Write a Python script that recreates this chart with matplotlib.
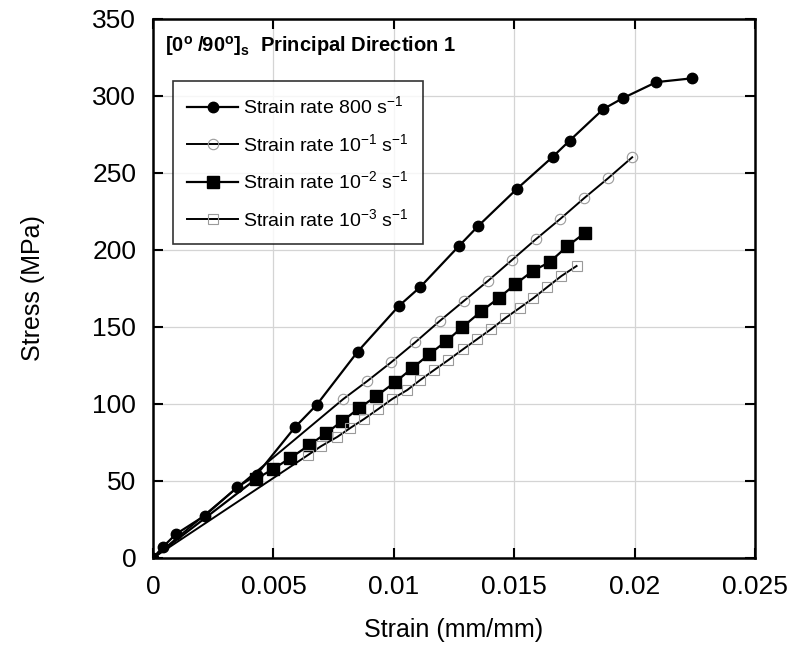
import matplotlib
matplotlib.use("Agg")
import matplotlib.pyplot as plt

plt.rcParams["font.family"] = ["Liberation Sans", "DejaVu Sans"]
plt.rcParams["mathtext.fontset"] = "custom"
plt.rcParams["mathtext.rm"] = "Liberation Sans"
plt.rcParams["mathtext.it"] = "Liberation Sans"
plt.rcParams["mathtext.bf"] = "Liberation Sans:bold"

# strain rate 800 1/s
strain_800 = [0, 0.0004, 0.00095, 0.00215, 0.0035, 0.0043, 0.0059, 0.0068, 0.0085, 0.0102,
              0.0111, 0.0127, 0.0135, 0.0151, 0.0166, 0.0173, 0.0187, 0.0195, 0.0209, 0.0224]
stress_800 = [0, 7, 15.5, 27.5, 46, 54, 85, 99.5, 134, 163.5,
              176, 202.5, 215.5, 239.5, 260.5, 271, 291.5, 298.5, 309, 311.5]

# strain rate 1e-1 1/s
strain_1e1 = [0, 0.0079, 0.0089, 0.0099, 0.0109, 0.0119, 0.0129, 0.0139,
              0.0149, 0.0159, 0.0169, 0.0179, 0.0189, 0.0199]
stress_1e1 = [0, 103.2, 114.9, 127.2, 140.2, 153.8, 166.8, 179.8,
              193.4, 207.0, 220.0, 233.6, 246.6, 260.2]

# strain rate 1e-2 1/s
strain_1e2 = [0, 0.00428, 0.00499, 0.0057, 0.00649, 0.00719, 0.00786, 0.00857, 0.00927, 0.01006,
              0.01077, 0.01148, 0.01218, 0.01285, 0.01364, 0.01435, 0.01505, 0.01576,
              0.01647, 0.01721, 0.01792]
stress_1e2 = [0, 51.3, 57.8, 64.9, 73.3, 81.1, 88.9, 97.4, 105.1, 114.2,
              123.3, 132.4, 140.8, 149.9, 160.3, 168.7, 177.8, 186.3,
              192.1, 202.5, 210.9]

# strain rate 1e-3 1/s
strain_1e3 = [0, 0.00644, 0.00699, 0.00765, 0.00819, 0.00877, 0.00936, 0.00994, 0.01056, 0.0111,
              0.01168, 0.01227, 0.01289, 0.01347, 0.01405, 0.01463, 0.01522, 0.0158,
              0.01638, 0.01696, 0.01759]
stress_1e3 = [0, 66.9, 72.7, 78.6, 84.4, 90.3, 96.8, 103.3, 109.1, 115.6,
              122.1, 128.6, 135.7, 142.2, 148.7, 155.8, 162.3, 168.8,
              176.0, 183.1, 189.6]

xticks = [0, 0.005, 0.01, 0.015, 0.02, 0.025]
xtick_labels = ["0", "0.005", "0.01", "0.015", "0.02", "0.025"]
yticks = [0, 50, 100, 150, 200, 250, 300, 350]

fig = plt.figure(figsize=(7.9, 6.57), dpi=100)
ax = fig.add_axes([0.1937, 0.1507, 0.762, 0.8204])

ax.plot(strain_800, stress_800, color="black", lw=1.6, marker="o", ms=7.5,
        mfc="black", mec="black", label="Strain rate 800 s$^{-1}$", zorder=4)
ax.plot(strain_1e1, stress_1e1, color="black", lw=1.4, marker="o", ms=7.5,
        mfc="none", mec="#9a9a9a", mew=0.8, markevery=slice(1, None),
        label="Strain rate 10$^{-1}$ s$^{-1}$", zorder=3)
ax.plot(strain_1e2, stress_1e2, color="black", lw=1.6, marker="s", ms=8,
        mfc="black", mec="black", markevery=slice(1, None),
        label="Strain rate 10$^{-2}$ s$^{-1}$", zorder=3)
ax.plot(strain_1e3, stress_1e3, color="black", lw=1.4, marker="s", ms=7.5,
        mfc="none", mec="#9a9a9a", mew=0.8, markevery=slice(1, None),
        label="Strain rate 10$^{-3}$ s$^{-1}$", zorder=3)

ax.set_xlim(0, 0.025)
ax.set_ylim(0, 350)
ax.set_xticks(xticks)
ax.set_xticklabels(xtick_labels)
ax.set_yticks(yticks)
ax.grid(True, color="#d4d4d4", lw=0.9)
ax.set_axisbelow(True)
ax.tick_params(direction="in", length=7, width=1.5, top=True, right=True,
               labelsize=19, pad=12)
for s in ax.spines.values():
    s.set_linewidth(1.8)

ax.set_xlabel("Strain (mm/mm)", fontsize=18, labelpad=14)
ax.set_ylabel("Stress (MPa)", fontsize=18, labelpad=34)

ax.text(0.02, 0.95, r"$\mathbf{[0^o\ /90^o]_s}$  Principal Direction 1",
        transform=ax.transAxes, fontsize=14.5, fontweight="bold", va="center")

leg = ax.legend(loc="upper left", bbox_to_anchor=(0.033, 0.885), fontsize=14,
                frameon=True, fancybox=False, edgecolor="black", handlelength=2.6,
                borderpad=0.75, labelspacing=0.8, handletextpad=0.25,
                borderaxespad=0)
leg.get_frame().set_linewidth(1.2)

fig.savefig("out.png", dpi=100)
